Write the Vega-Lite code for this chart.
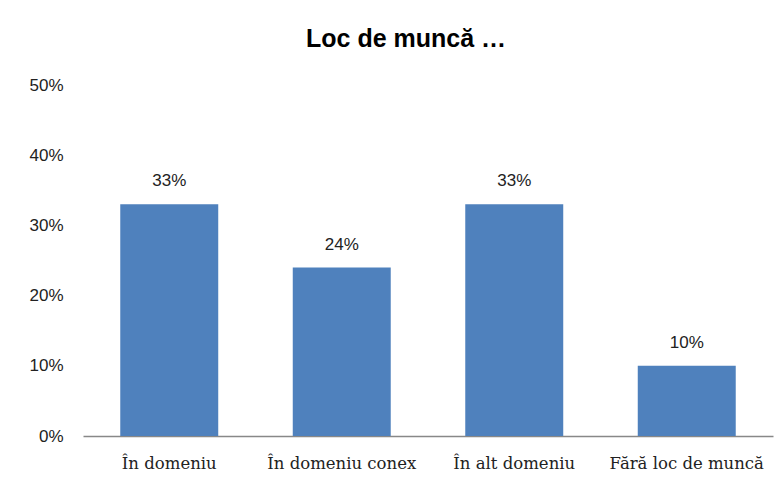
{
  "$schema": "https://vega.github.io/schema/vega-lite/v6.json",
  "width": 690,
  "height": 351,
  "autosize": {"type": "none"},
  "padding": {"left": 83, "top": 85, "right": 10, "bottom": 47},
  "background": "white",
  "title": {
    "text": "Loc de muncă …",
    "font": "Liberation Sans",
    "fontSize": 25,
    "fontWeight": "bold",
    "color": "#000000",
    "anchor": "middle",
    "dx": -22,
    "offset": 24
  },
  "data": {
    "values": [
      {"cat": "În domeniu", "val": 0.33},
      {"cat": "În domeniu conex", "val": 0.24},
      {"cat": "În alt domeniu", "val": 0.33},
      {"cat": "Fără loc de muncă", "val": 0.10}
    ]
  },
  "config": {
    "view": {"stroke": null}
  },
  "encoding": {
    "x": {
      "field": "cat",
      "type": "nominal",
      "sort": null,
      "title": null,
      "scale": {"paddingInner": 0.432, "paddingOuter": 0.216},
      "axis": {
        "labelAngle": 0,
        "labelFont": "DejaVu Serif",
        "labelFontSize": 16.5,
        "labelColor": "#222222",
        "labelPadding": 19,
        "ticks": false,
        "domainColor": "#888888",
        "domainWidth": 1.5,
        "grid": false
      }
    },
    "y": {
      "field": "val",
      "type": "quantitative",
      "title": null,
      "scale": {"domain": [0, 0.5], "nice": false},
      "axis": {
        "values": [0, 0.1, 0.2, 0.3, 0.4, 0.5],
        "format": ".0%",
        "labelFont": "Liberation Sans",
        "labelFontSize": 17,
        "labelColor": "#222222",
        "labelPadding": 20,
        "domain": false,
        "ticks": false,
        "grid": false
      }
    }
  },
  "layer": [
    {"mark": {"type": "bar", "color": "#4F81BD"}},
    {
      "mark": {"type": "text", "baseline": "bottom", "dy": -14, "font": "Liberation Sans", "fontSize": 17, "color": "#222222"},
      "encoding": {"text": {"field": "val", "type": "quantitative", "format": ".0%"}}
    }
  ]
}
